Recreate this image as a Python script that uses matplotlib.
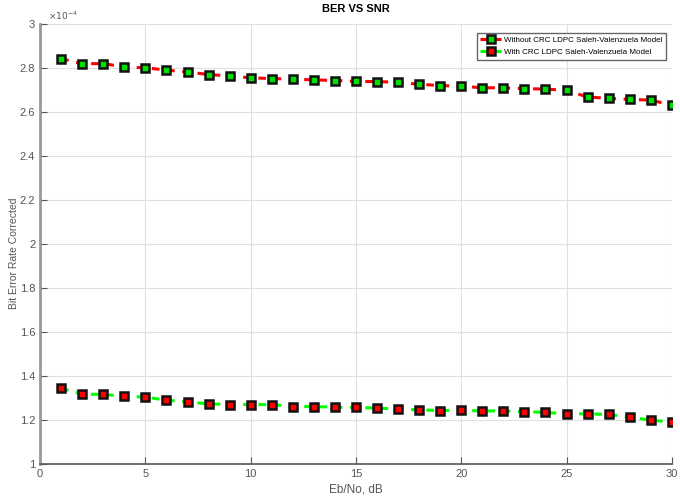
import matplotlib
matplotlib.use("Agg")
import matplotlib.pyplot as plt

snr = list(range(1, 31))

sin_crc = [2.843, 2.820, 2.821, 2.805, 2.802, 2.791, 2.783, 2.771, 2.765, 2.756,
           2.753, 2.750, 2.747, 2.744, 2.740, 2.739, 2.736, 2.727, 2.721, 2.718,
           2.711, 2.711, 2.707, 2.705, 2.699, 2.669, 2.663, 2.658, 2.655, 2.632]

con_crc = [1.345, 1.318, 1.317, 1.309, 1.305, 1.291, 1.283, 1.274, 1.271, 1.271,
           1.271, 1.262, 1.262, 1.259, 1.258, 1.255, 1.250, 1.247, 1.244, 1.245,
           1.242, 1.242, 1.239, 1.235, 1.229, 1.229, 1.226, 1.214, 1.200, 1.192]

etiquetas = ["Without CRC LDPC Saleh-Valenzuela Model",
             "With CRC LDPC Saleh-Valenzuela Model"]

plt.rcParams["font.family"] = ["Liberation Sans Narrow", "Liberation Sans", "DejaVu Sans"]

fig = plt.figure(figsize=(6.8, 5.04), dpi=100)
ax = fig.add_axes([0.059, 0.079, 0.929, 0.873])

ax.plot(snr, [v * 1e-4 for v in sin_crc], linestyle="--", color="#ff0000", linewidth=2.2,
        dashes=(2.5, 2.5), marker="s", markersize=5.5, markerfacecolor="#00e000",
        markeredgecolor="#111111", markeredgewidth=1.8, label=etiquetas[0])
ax.plot(snr, [v * 1e-4 for v in con_crc], linestyle="--", color="#00ff00", linewidth=2.2,
        dashes=(2.5, 2.5), marker="s", markersize=5.5, markerfacecolor="#ff0000",
        markeredgecolor="#111111", markeredgewidth=1.8, label=etiquetas[1])

ax.set_xlim(0, 30)
ax.set_ylim(1e-4, 3e-4)
ax.set_xticks([0, 5, 10, 15, 20, 25, 30])
ax.set_yticks([v * 1e-4 for v in [1, 1.2, 1.4, 1.6, 1.8, 2, 2.2, 2.4, 2.6, 2.8, 3]])
ax.set_yticklabels(["1", "1.2", "1.4", "1.6", "1.8", "2", "2.2", "2.4", "2.6", "2.8", "3"])

ax.grid(True, color="#e0e0e0", linewidth=0.8)
ax.set_axisbelow(True)
for lado in ["top", "right"]:
    ax.spines[lado].set_visible(False)
ax.spines["left"].set_color("#999999")
ax.spines["left"].set_linewidth(2)
ax.spines["bottom"].set_color("#555555")
ax.spines["bottom"].set_linewidth(1.2)
ax.tick_params(direction="in", length=5, colors="#555555", labelsize=8)

ax.text(0.012, 1.005, r"$\times10^{-4}$", transform=ax.transAxes, fontsize=6.5,
        color="#555555", va="bottom")

ax.set_title("BER VS SNR", fontsize=8, fontweight="bold", pad=9)
ax.set_xlabel("Eb/No, dB", fontsize=8.5, color="#555555", labelpad=3)
ax.set_ylabel("Bit Error Rate Corrected", fontsize=7.5, color="#555555")
ax.yaxis.set_label_coords(-0.033, 0.48)

ax.legend(loc="upper right", bbox_to_anchor=(0.99, 0.98), fontsize=5.8,
          handlelength=2.6, handletextpad=0.3, borderpad=0.45, labelspacing=0.5,
          borderaxespad=0, fancybox=False, edgecolor="#666666", framealpha=1)

fig.savefig("out.png", dpi=100)
